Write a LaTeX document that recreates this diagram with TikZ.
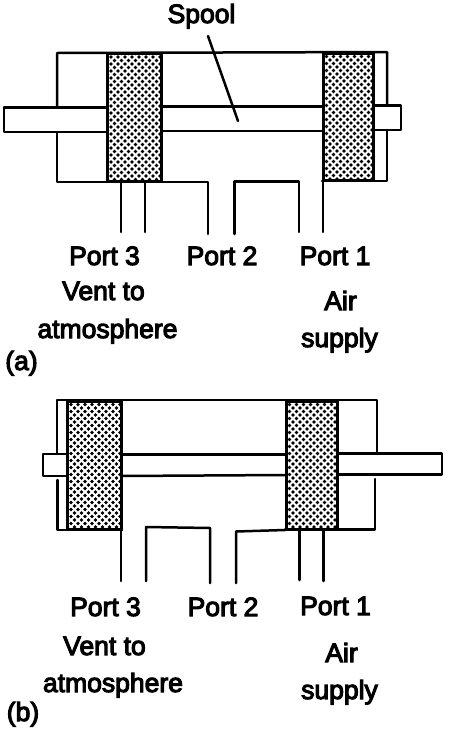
\documentclass[tikz,border=0pt]{standalone}
\usepackage{fontspec}
\setmainfont[RawFeature={embolden=4}]{Liberation Sans}
\tikzset{
  wall/.style={line width=2.5pt,line cap=round,line join=round,black},
  piston/.style={line width=3pt,black},
  label/.style={font=\fontsize{26.5}{30}\selectfont,anchor=base,inner sep=0pt,text=black}
}
\newcommand{\hatchfill}[4]{%
  \begin{scope}
    \clip (#1,#2) rectangle (#3,#4);
    \foreach \r in {0,...,38}{
      \pgfmathsetmacro{\yy}{#2+\r*3.5}
      \pgfmathsetmacro{\off}{mod(\r,2)*3.5}
      \foreach \c in {0,...,8}{
        \pgfmathsetmacro{\xx}{#1+\off+\c*7}
        \fill[black] (\xx,\yy) circle[radius=1.8pt];
      }
    }
  \end{scope}
  \draw[piston] (#1,#2) rectangle (#3,#4);
}
\begin{document}
\begin{tikzpicture}[x=1pt,y=-1pt]
\useasboundingbox (0,0) rectangle (450,734);
% ---------- (a) ----------
\coordinate (aBodyTL) at (57,53);
\coordinate (aBodyTR) at (387,52);
\coordinate (aBodyBL) at (57,182);
\coordinate (aBodyBR) at (387,181);
\draw[wall] (57,107) -- (aBodyTL) -- (aBodyTR) -- (387,105);
\draw[wall] (387,130) -- (aBodyBR) -- (322,181);
\draw[wall] (57,132) -- (aBodyBL) -- (208,182) -- (208,234);
\draw[wall] (4,107.5) -- (107,107.5);
\draw[wall] (4,107.5) -- (4,132) -- (107,132);
\draw[wall] (161,106.5) -- (322,106.5);
\draw[wall] (161,131) -- (322,131);
\draw[wall] (373,105.5) -- (401,105.5) -- (401,130) -- (373,130);
\draw[wall] (121,182) -- (121,232);
\draw[wall] (145,182) -- (145,232);
\draw[wall] (234.5,234) -- (234.5,181.5) -- (299,181.5) -- (299,232);
\draw[wall] (323,181) -- (323,232);
\hatchfill{107.5}{53.5}{161}{181.5}
\hatchfill{323}{53}{373}{180}
\draw[wall] (208,36) -- (238,121);
\node[label] (spool) at (201.5,23) {Spool};
\node[label] (a3) at (104.5,265) {Port 3};
\node[label] (a2) at (222,265) {Port 2};
\node[label] (a1) at (335,265) {Port 1};
\node[label] (avent) at (103.5,300) {Vent to};
\node[label] (aatm) at (107.5,338) {atmosphere};
\node[label] (aair) at (340.5,310) {Air};
\node[label] (asup) at (339.5,347) {supply};
\node[label] (atag) at (21.5,370) {(a)};
% ---------- (b) ----------
\coordinate (bBodyTL) at (57,400);
\coordinate (bBodyTR) at (377,400);
\coordinate (bBodyBL) at (57.5,530);
\coordinate (bBodyBR) at (375,529.5);
\draw[wall] (57,454) -- (bBodyTL) -- (bBodyTR) -- (377,454);
\draw[wall] (57.5,480) -- (bBodyBL) -- (121,530) -- (121,581);
\draw[wall] (375,479) -- (bBodyBR) -- (285,529.5);
\draw[wall] (236,583) -- (236,531.5) -- (285,530);
\draw[wall] (146,581) -- (146,527) -- (210,528) -- (210,583);
\draw[wall] (67,454) -- (43,454) -- (43,476) -- (67,476);
\draw[wall] (121,454.5) -- (285,454.5);
\draw[wall] (121,476) -- (285,475);
\draw[wall] (337,453.5) -- (442,453.5) -- (442,474.5) -- (337,474.5);
\draw[wall] (299.5,530) -- (299.5,580);
\draw[wall] (323.5,530) -- (323.5,581);
\hatchfill{67.5}{401}{121}{529.5}
\hatchfill{286}{401}{337}{529}
\node[label] (b3) at (105.5,616) {Port 3};
\node[label] (b2) at (223,616) {Port 2};
\node[label] (b1) at (335.5,615) {Port 1};
\node[label] (bvent) at (104.5,655) {Vent to};
\node[label] (batm) at (113,692) {atmosphere};
\node[label] (bair) at (341.5,662) {Air};
\node[label] (bsup) at (339.5,699) {supply};
\node[label] (btag) at (23,721) {(b)};
\end{tikzpicture}
\end{document}
